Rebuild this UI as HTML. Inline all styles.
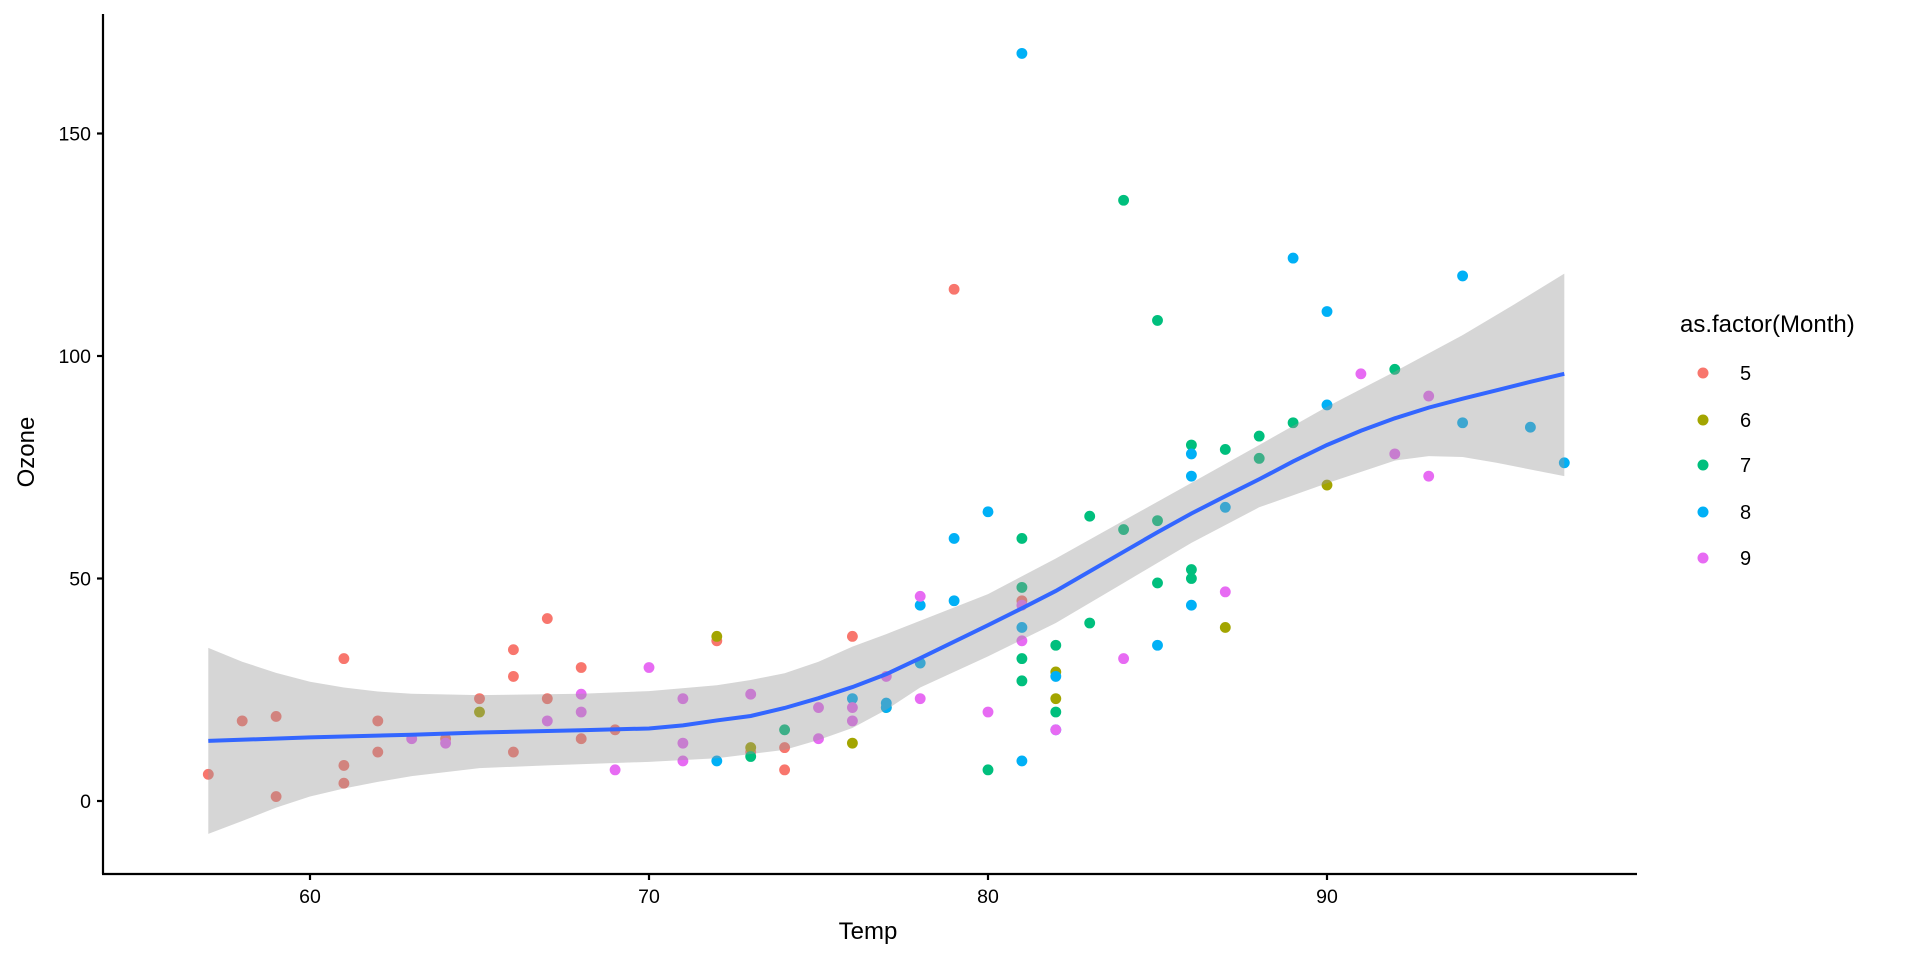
<!DOCTYPE html>
<html><head><meta charset="utf-8"><style>
html,body{margin:0;padding:0;background:#fff;}
svg{display:block;font-family:"Liberation Sans",Arial,sans-serif;}
</style></head><body>
<svg width="1920" height="960" viewBox="0 0 1920 960" xmlns="http://www.w3.org/2000/svg">
<defs><ellipse id="d" cx="0" cy="0" rx=".16" ry="1.22"/></defs>
<g transform="translate(-1724,801) scale(33.9,-4.45)">
<g fill="#F8766D">
<use href="#d" x="67" y="41"/><use href="#d" x="72" y="36"/><use href="#d" x="74" y="12"/><use href="#d" x="62" y="18"/><use href="#d" x="66" y="28"/><use href="#d" x="65" y="23"/><use href="#d" x="59" y="19"/><use href="#d" x="61" y="8"/><use href="#d" x="74" y="7"/><use href="#d" x="69" y="16"/><use href="#d" x="66" y="11"/><use href="#d" x="68" y="14"/><use href="#d" x="58" y="18"/><use href="#d" x="64" y="14"/><use href="#d" x="66" y="34"/><use href="#d" x="57" y="6"/><use href="#d" x="68" y="30"/><use href="#d" x="62" y="11"/><use href="#d" x="59" y="1"/><use href="#d" x="73" y="11"/><use href="#d" x="61" y="4"/><use href="#d" x="61" y="32"/><use href="#d" x="67" y="23"/><use href="#d" x="81" y="45"/><use href="#d" x="79" y="115"/><use href="#d" x="76" y="37"/>
</g>
<g fill="#A3A500">
<use href="#d" x="82" y="29"/><use href="#d" x="90" y="71"/><use href="#d" x="87" y="39"/><use href="#d" x="82" y="23"/><use href="#d" x="77" y="21"/><use href="#d" x="72" y="37"/><use href="#d" x="65" y="20"/><use href="#d" x="73" y="12"/><use href="#d" x="76" y="13"/>
</g>
<g fill="#00BF7D">
<use href="#d" x="84" y="135"/><use href="#d" x="85" y="49"/><use href="#d" x="81" y="32"/><use href="#d" x="83" y="64"/><use href="#d" x="83" y="40"/><use href="#d" x="88" y="77"/><use href="#d" x="92" y="97"/><use href="#d" x="89" y="85"/><use href="#d" x="73" y="10"/><use href="#d" x="81" y="27"/><use href="#d" x="80" y="7"/><use href="#d" x="81" y="48"/><use href="#d" x="82" y="35"/><use href="#d" x="84" y="61"/><use href="#d" x="87" y="79"/><use href="#d" x="85" y="63"/><use href="#d" x="74" y="16"/><use href="#d" x="86" y="80"/><use href="#d" x="85" y="108"/><use href="#d" x="82" y="20"/><use href="#d" x="86" y="52"/><use href="#d" x="88" y="82"/><use href="#d" x="86" y="50"/><use href="#d" x="81" y="59"/>
</g>
<g fill="#00B0F6">
<use href="#d" x="81" y="39"/><use href="#d" x="81" y="9"/><use href="#d" x="82" y="16"/><use href="#d" x="86" y="78"/><use href="#d" x="85" y="35"/><use href="#d" x="87" y="66"/><use href="#d" x="89" y="122"/><use href="#d" x="90" y="89"/><use href="#d" x="90" y="110"/><use href="#d" x="86" y="44"/><use href="#d" x="82" y="28"/><use href="#d" x="80" y="65"/><use href="#d" x="77" y="22"/><use href="#d" x="79" y="59"/><use href="#d" x="76" y="23"/><use href="#d" x="78" y="31"/><use href="#d" x="78" y="44"/><use href="#d" x="77" y="21"/><use href="#d" x="72" y="9"/><use href="#d" x="79" y="45"/><use href="#d" x="81" y="168"/><use href="#d" x="86" y="73"/><use href="#d" x="97" y="76"/><use href="#d" x="94" y="118"/><use href="#d" x="96" y="84"/><use href="#d" x="94" y="85"/>
</g>
<g fill="#E76BF3">
<use href="#d" x="91" y="96"/><use href="#d" x="92" y="78"/><use href="#d" x="93" y="73"/><use href="#d" x="93" y="91"/><use href="#d" x="87" y="47"/><use href="#d" x="84" y="32"/><use href="#d" x="80" y="20"/><use href="#d" x="78" y="23"/><use href="#d" x="75" y="21"/><use href="#d" x="73" y="24"/><use href="#d" x="81" y="44"/><use href="#d" x="76" y="21"/><use href="#d" x="77" y="28"/><use href="#d" x="71" y="9"/><use href="#d" x="71" y="13"/><use href="#d" x="78" y="46"/><use href="#d" x="67" y="18"/><use href="#d" x="68" y="24"/><use href="#d" x="82" y="16"/><use href="#d" x="64" y="13"/><use href="#d" x="71" y="23"/><use href="#d" x="81" y="36"/><use href="#d" x="69" y="7"/><use href="#d" x="63" y="14"/><use href="#d" x="70" y="30"/><use href="#d" x="75" y="14"/><use href="#d" x="76" y="18"/><use href="#d" x="68" y="20"/>
</g>
<path fill="#999" fill-opacity="0.4" d="M57,34.4 L58,31.3 L59,28.8 L60,26.8 L61,25.5 L62,24.6 L63,24.1 L65,23.8 L68,24.1 L70,24.7 L72,26 L73,27.2 L74,28.7 L75,31.3 L76,34.7 L77,37.5 L78,40.5 L80,46.5 L82,54.5 L84,63 L86,71.5 L88,80 L90,88.6 L92,96.5 L94,104.7 L95.5,111.5 L97,118.5 L97,73 L96,74.5 L95,76 L94,77.3 L93,77.5 L92,76.5 L90,71.4 L88,66 L86,58 L84,49 L82,40 L80,32.5 L78,25.5 L77,20.5 L76,16.4 L75,13.7 L74,11.5 L72,9.6 L70,8.8 L67,8 L65,7.4 L63,5.6 L62,4.3 L61,2.8 L60,1 L59,-1.5 L58,-4.5 L57,-7.4 Z"/>
<path fill="none" stroke="#3366FF" stroke-width="4" vector-effect="non-scaling-stroke" d="M57,13.5 L60,14.3 L63,14.9 L65,15.4 L68,15.9 L70,16.3 L71,17 L72,18.1 L73,19.1 L74,20.9 L75,23.1 L76,25.6 L77,28.5 L78,32.1 L79,35.8 L80,39.5 L81,43.3 L82,47.2 L83,51.6 L84,56 L85,60.4 L86,64.6 L87,68.5 L88,72.3 L89,76.3 L90,80 L91,83.2 L92,86 L93,88.4 L94,90.4 L95,92.3 L96,94.2 L97,96"/>
</g>
<g stroke="#000" stroke-width="2.2">
<line x1="103" y1="14" x2="103" y2="874"/>
<line x1="102" y1="874" x2="1637" y2="874"/>
<line x1="97" y1="801" x2="103" y2="801"/>
<line x1="97" y1="578.5" x2="103" y2="578.5"/>
<line x1="97" y1="356" x2="103" y2="356"/>
<line x1="97" y1="133.5" x2="103" y2="133.5"/>
<line x1="310" y1="874" x2="310" y2="880"/>
<line x1="649" y1="874" x2="649" y2="880"/>
<line x1="988" y1="874" x2="988" y2="880"/>
<line x1="1327" y1="874" x2="1327" y2="880"/>
</g>
<g font-size="19.5" fill="#000" text-anchor="end">
<text x="91" y="808">0</text>
<text x="91" y="585.5">50</text>
<text x="91" y="363">100</text>
<text x="91" y="140.5">150</text>
</g>
<g font-size="19.5" fill="#000" text-anchor="middle">
<text x="310" y="903">60</text>
<text x="649" y="903">70</text>
<text x="988" y="903">80</text>
<text x="1327" y="903">90</text>
</g>
<text x="868" y="939" font-size="24" text-anchor="middle">Temp</text>
<text transform="translate(34,452) rotate(-90)" font-size="24" text-anchor="middle">Ozone</text>
<text x="1680" y="332" font-size="24">as.factor(Month)</text>
<g font-size="20">
<circle cx="1703" cy="373" r="5.5" fill="#F8766D"/><text x="1740" y="380">5</text>
<circle cx="1703" cy="420" r="5.5" fill="#A3A500"/><text x="1740" y="427">6</text>
<circle cx="1703" cy="465" r="5.5" fill="#00BF7D"/><text x="1740" y="472">7</text>
<circle cx="1703" cy="512" r="5.5" fill="#00B0F6"/><text x="1740" y="519">8</text>
<circle cx="1703" cy="558" r="5.5" fill="#E76BF3"/><text x="1740" y="565">9</text>
</g>
</svg>
</body></html>
